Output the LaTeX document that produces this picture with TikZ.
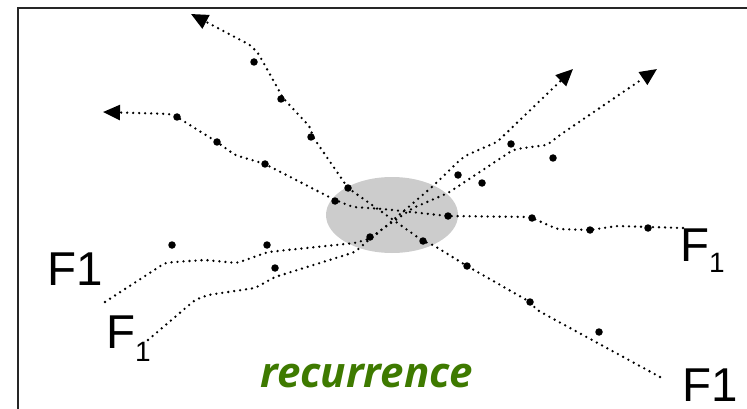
\documentclass[tikz,border=0pt]{standalone}
\usepackage{fontspec}
\setmainfont{Liberation Sans}
\newfontfamily\recfont{Open Sans}
\usetikzlibrary{arrows.meta,shapes.geometric}
\definecolor{recgreen}{RGB}{62,122,0}
\definecolor{blobgray}{RGB}{204,204,204}
\begin{document}
\begin{tikzpicture}[x=1pt,y=-1pt,
  track/.style={line width=2.6pt, line cap=round, dash pattern=on 0pt off 6pt, rounded corners=3pt},
  trackarrow/.style={track, -{Triangle[length=17pt,width=15pt]}},
  hit/.style={circle, fill=black, inner sep=0pt, minimum size=7.5pt},
  lbl/.style={inner sep=0pt, anchor=base west, font=\fontsize{47.5}{50}\selectfont},
  frameline/.style={line width=2pt, black!85},
]
\useasboundingbox (0,0) rectangle (747,409);
\draw[frameline] (18,409) -- (18,8) -- (747,8);
\node[fill=blobgray, ellipse, minimum width=132pt, minimum height=76pt, inner sep=0pt] (blob) at (392,215) {};
% labels
\node[lbl] (f1a) at (47,285) {F1};
\node[lbl] (f1b) at (106,348) {F\raisebox{-13pt}{\fontsize{28}{30}\selectfont 1}};
\node[lbl] (f1c) at (680,261) {F\raisebox{-11pt}{\fontsize{28}{30}\selectfont 1}};
\node[lbl] (f1d) at (682,401) {F1};
\node[inner sep=0pt, anchor=base west, text=recgreen, font=\recfont\bfseries\itshape\fontsize{42}{46}\selectfont] (rec) at (260,387) {recurrence};
% track end points
\coordinate (sA) at (660,377);
\coordinate (eA) at (191,14);
\coordinate (sB) at (683,228);
\coordinate (eB) at (103,112);
\coordinate (sC) at (105,302);
\coordinate (eC) at (573,69);
\coordinate (sD) at (148,340);
\coordinate (eD) at (657,69);
% tracks
\draw[trackarrow] (sA) -- (537,310) -- (530,302) -- (467,266) -- (433,245) -- (423,241) -- (348,188) -- (313,137) -- (310,127) -- (283,98) -- (277,87) -- (258,53) -- (250,45) -- (eA);
\draw[trackarrow] (sB) -- (617,226) -- (590,230) -- (557,229) -- (530,217) -- (448,216) -- (383,209) -- (353,207) -- (335,200) -- (265,164) -- (235,155) -- (217,142) -- (177,117) -- (170,114) -- (eB);
\draw[trackarrow] (sC) -- (165,263) -- (175,262) -- (205,260) -- (237,263) -- (268,252) -- (355,243) -- (372,238) -- (432,187) -- (460,160) -- (467,155) -- (497,142) -- (eC);
\draw[trackarrow] (sD) -- (195,300) -- (208,295) -- (255,288) -- (275,277) -- (355,252) -- (378,232) -- (413,208) -- (448,193) -- (513,150) -- (523,148) -- (547,145) -- (560,135) -- (eD);
% hits
\node[hit] (a1) at (254,62) {};
\node[hit] (a2) at (281,99) {};
\node[hit] (a3) at (311,137) {};
\node[hit] (a4) at (348,188) {};
\node[hit] (a5) at (423,241) {};
\node[hit] (a6) at (467,266) {};
\node[hit] (a7) at (530,302) {};
\node[hit] (a8) at (599,332) {};
\node[hit] (b1) at (177,117) {};
\node[hit] (b2) at (217,142) {};
\node[hit] (b3) at (265,164) {};
\node[hit] (b4) at (335,201) {};
\node[hit] (b5) at (448,216) {};
\node[hit] (b6) at (532,218) {};
\node[hit] (b7) at (590,230) {};
\node[hit] (b8) at (648,228) {};
\node[hit] (c1) at (172,245) {};
\node[hit] (c2) at (267,245) {};
\node[hit] (c3) at (275,268) {};
\node[hit] (c4) at (370,237) {};
\node[hit] (c5) at (458,175) {};
\node[hit] (c6) at (482,183) {};
\node[hit] (c7) at (511,144) {};
\node[hit] (c8) at (553,158) {};
\end{tikzpicture}
\end{document}
